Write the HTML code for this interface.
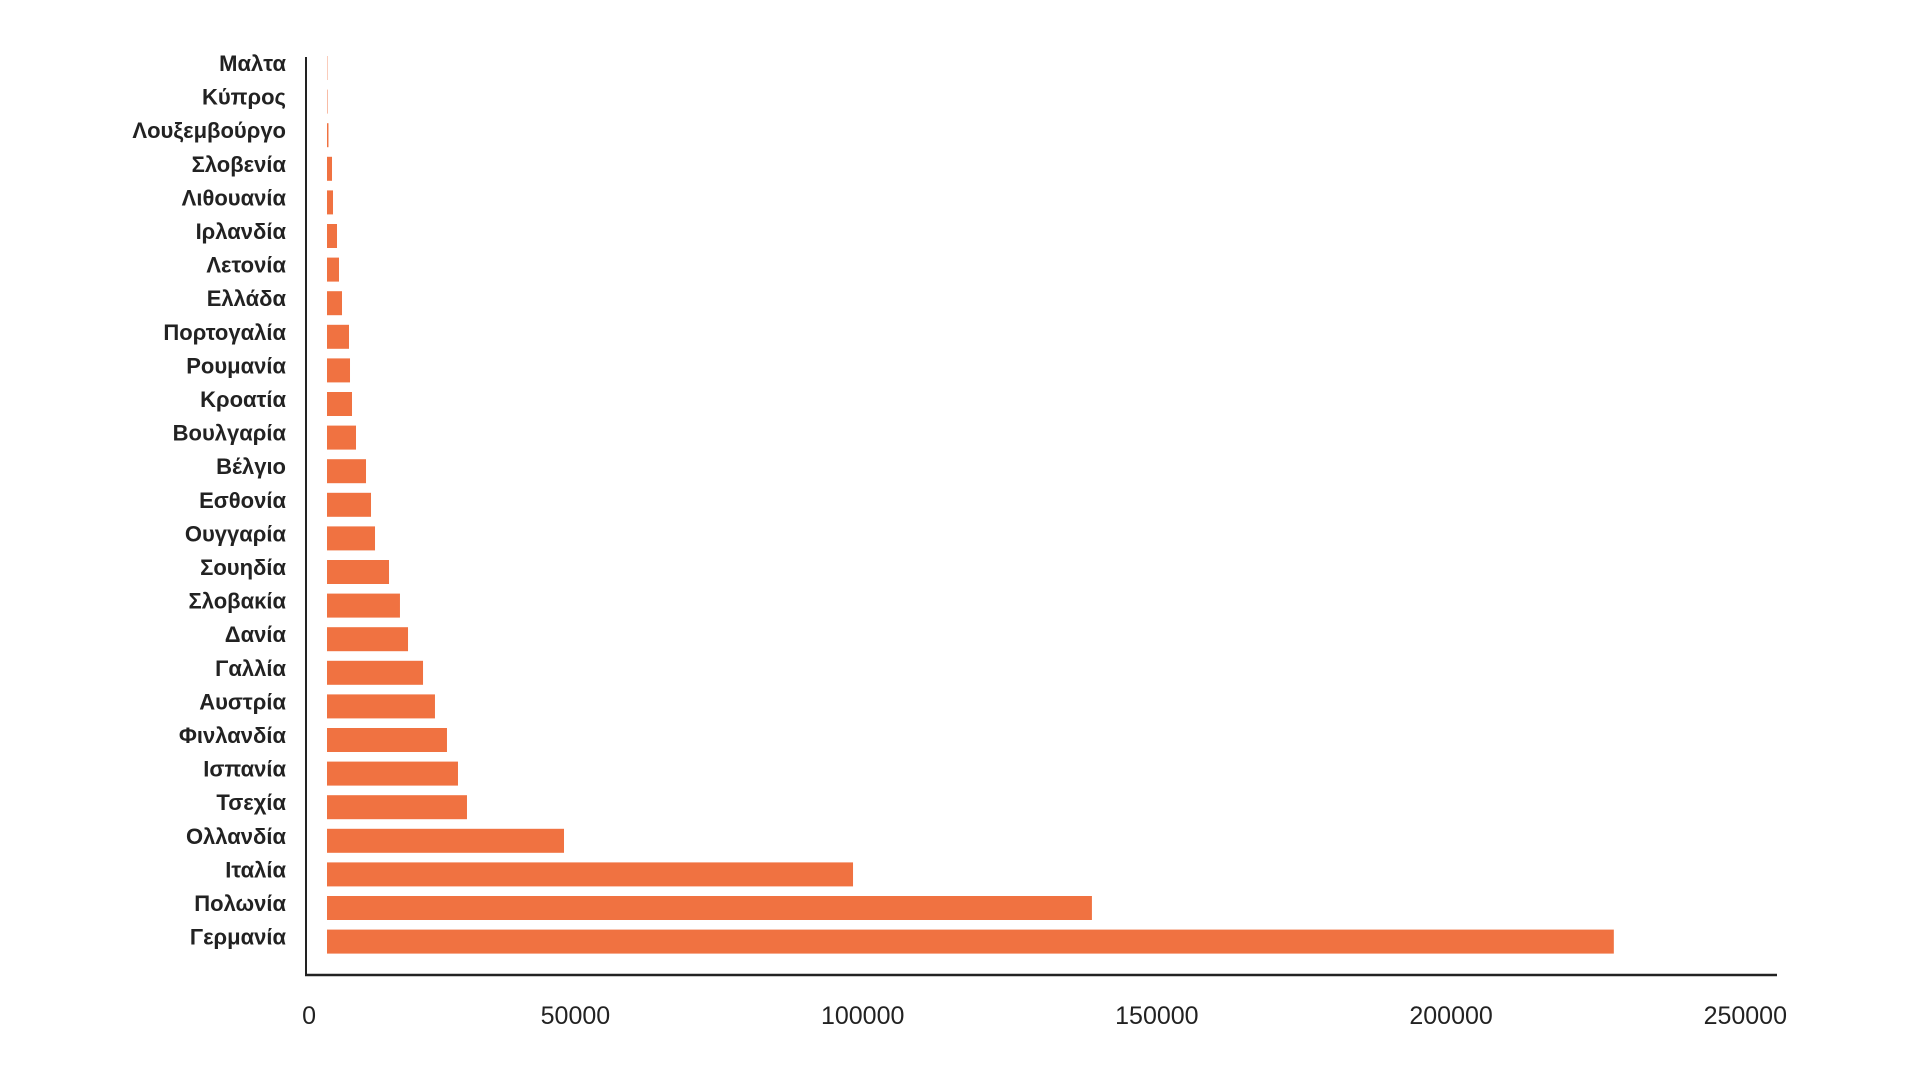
<!DOCTYPE html>
<html><head><meta charset="utf-8"><style>
html,body{margin:0;padding:0;background:#fff;}
svg{display:block;}
text{font-family:"Liberation Sans","DejaVu Sans",sans-serif;fill:#222;}
</style></head><body>
<svg id="chart" width="1920" height="1081" viewBox="0 0 1920 1081">
<g id="bars"></g>
<g id="ylabels"></g>
<g id="xlabels"></g>
<line x1="306" y1="57" x2="306" y2="976" stroke="#222" stroke-width="2"/>
<line x1="305" y1="975" x2="1777" y2="975" stroke="#222" stroke-width="2.5"/>
</svg>
<script>
const categories = ["Μαλτα","Κύπρος","Λουξεμβούργο","Σλοβενία","Λιθουανία","Ιρλανδία","Λετονία","Ελλάδα","Πορτογαλία","Ρουμανία","Κροατία","Βουλγαρία","Βέλγιο","Εσθονία","Ουγγαρία","Σουηδία","Σλοβακία","Δανία","Γαλλία","Αυστρία","Φινλανδία","Ισπανία","Τσεχία","Ολλανδία","Ιταλία","Πολωνία","Γερμανία"];
const values = [60,80,250,850,1020,1700,2040,2550,3740,3910,4250,4930,6630,7480,8160,10540,12400,13770,16320,18350,20390,22260,23790,40280,89400,130000,218700];
const tickValues = [0,50000,100000,150000,200000,250000];
const tickLabels = ["0","50000","100000","150000","200000","250000"];

const NS = "http://www.w3.org/2000/svg";
const xScale = v => 327 + v * (1471 / 250000);
const tickX = v => 306 + v * (1471 / 250000);
const yTop = i => 56 + i * 33.6;
const barH = 24;

const gb = document.getElementById('bars');
const gy = document.getElementById('ylabels');
const gx = document.getElementById('xlabels');

categories.forEach((c, i) => {
  const r = document.createElementNS(NS, 'rect');
  r.setAttribute('x', xScale(0));
  r.setAttribute('y', yTop(i));
  r.setAttribute('width', Math.max(0.3, xScale(values[i]) - xScale(0)));
  r.setAttribute('height', barH);
  r.setAttribute('fill', '#F07241');
  
  
  gb.appendChild(r);

  const t = document.createElementNS(NS, 'text');
  t.setAttribute('x', 286);
  t.setAttribute('y', yTop(i) + barH / 2 + 3);
  t.setAttribute('text-anchor', 'end');
  t.setAttribute('font-size', '22');
  t.setAttribute('font-weight', 'bold');
  t.textContent = c;
  
  
  gy.appendChild(t);
});

tickValues.forEach((v, i) => {
  const t = document.createElementNS(NS, 'text');
  t.setAttribute('x', tickX(v) + 10);
  t.setAttribute('y', 1024);
  t.setAttribute('text-anchor', 'end');
  t.setAttribute('font-size', '25');
  t.textContent = tickLabels[i];
  
  
  gx.appendChild(t);
});
</script>
</body></html>
